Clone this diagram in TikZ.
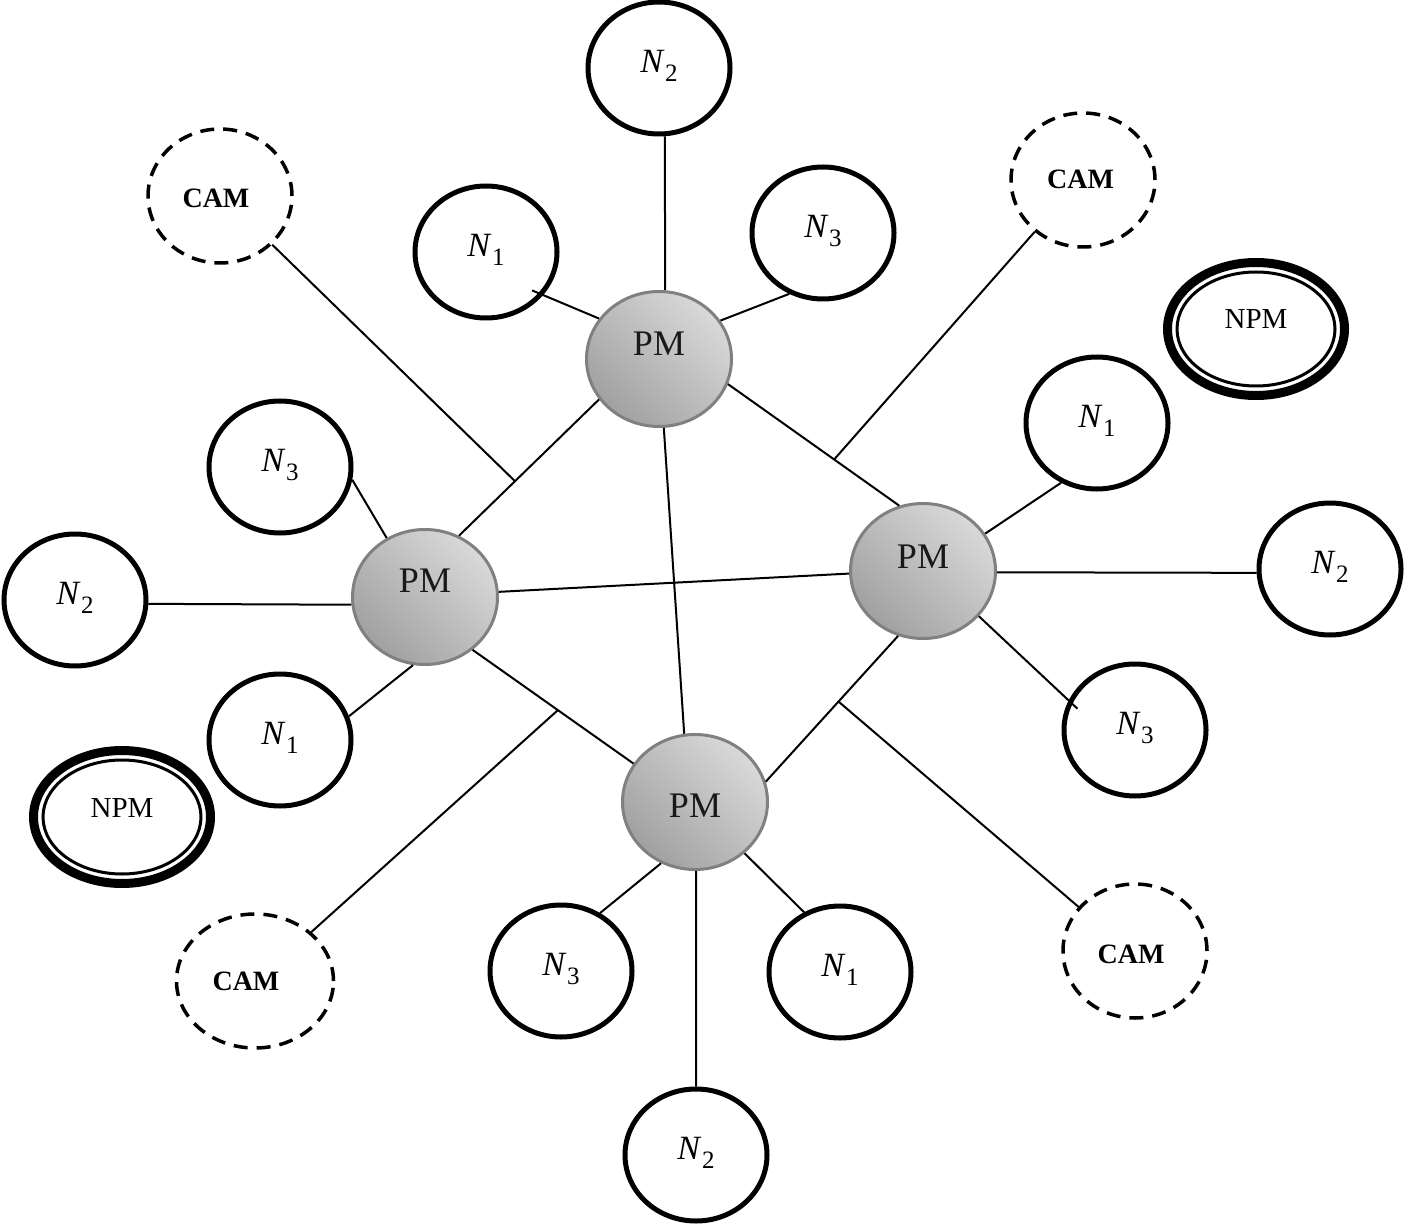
\documentclass[tikz,border=0pt]{standalone}
\usepackage{fontspec}
\setmainfont{Liberation Serif}
\usetikzlibrary{shapes.geometric,calc}
\newcommand\lift[2]{\raisebox{#1}[0pt][0pt]{#2}}
\newcommand\Nlab[1]{\lift{-4.5pt}{\textit{N}\kern0.5pt\raisebox{-0.27em}{\fontsize{25}{26}\selectfont #1}}}
\tikzset{
  nnode/.style={ellipse, draw=black, line width=5pt, minimum width=142pt, minimum height=132pt, inner sep=0pt, font=\fontsize{34}{36}\selectfont},
  pmnode/.style={ellipse, draw=gray, line width=3pt, minimum width=145pt, minimum height=135pt, inner sep=0pt,
    shading=axis, top color=gray!30, bottom color=gray!74, shading angle=-45, text=black!90, font=\fontsize{36}{38}\selectfont},
  camnode/.style={ellipse, draw=black, line width=3.5pt, dash pattern=on 14pt off 9pt, minimum width=144pt, minimum height=134pt, inner sep=0pt, font=\bfseries\fontsize{28}{30}\selectfont},
  npmnode/.style={ellipse, draw=black, line width=9pt, minimum width=177pt, minimum height=133pt, inner sep=0pt, font=\fontsize{29}{31}\selectfont},
  npminner/.style={line width=3pt, draw=black},
  link/.style={line width=2pt, draw=black},
}
\begin{document}
\begin{tikzpicture}[x=1pt,y=-1pt]
\useasboundingbox (0,0) rectangle (1406,1230);
% PM nodes
\node[pmnode] (pmT) at (659,359) {\lift{3pt}{PM}};
\node[pmnode] (pmL) at (425,597) {\lift{4.5pt}{PM}};
\node[pmnode] (pmR) at (923,571) {\lift{3pt}{PM}};
\node[pmnode] (pmB) at (695,802) {\lift{-15pt}{PM}};
% N nodes
\node[nnode] (n2t) at (659,68) {\Nlab{2}};
\node[nnode] (n1t) at (486,252) {\Nlab{1}};
\node[nnode] (n3t) at (823,233) {\Nlab{3}};
\node[nnode] (n1r) at (1097,423) {\Nlab{1}};
\node[nnode] (n2r) at (1330,569) {\Nlab{2}};
\node[nnode] (n3r) at (1135,730) {\Nlab{3}};
\node[nnode] (n1b) at (840,972) {\Nlab{1}};
\node[nnode] (n3b) at (561,971) {\Nlab{3}};
\node[nnode] (n2b) at (696,1155) {\Nlab{2}};
\node[nnode] (n1l) at (280,740) {\Nlab{1}};
\node[nnode] (n2l) at (75,600) {\Nlab{2}};
\node[nnode] (n3l) at (280,467) {\Nlab{3}};
% CAM nodes
\node[camnode] (camTL) at (220,196) {\lift{-12pt}{\kern-8pt CAM}};
\node[camnode] (camTR) at (1083,180) {\lift{-9pt}{\kern-5pt CAM}};
\node[camnode] (camBR) at (1135,951) {\lift{-12pt}{\kern-8pt CAM}};
\node[camnode, minimum width=157pt] (camBL) at (255,981) {\lift{-9pt}{\kern-18pt CAM}};
% NPM nodes
\node[npmnode] (npmR) at (1256,329) {\lift{0pt}{NPM}};
\node[npmnode] (npmL) at (122,817) {\lift{0pt}{NPM}};
\draw[npminner] (npmR.center) ellipse (79 and 57);
\draw[npminner] (npmL.center) ellipse (79 and 57);
% PM to PM links
\draw[link] (pmT.-20) -- (pmR.110);
\draw[link] (pmT.-146) -- (pmL.61);
\draw[link] (pmT.-86) -- (pmB.99);
\draw[link] (pmL.4) -- (pmR.-178.5);
\draw[link] (pmL.-48) -- (pmB.148.5);
\draw[link] (pmR.-111) -- (pmB.16.5);
% junction coordinates for CAM links
\coordinate (jTL) at ($(pmT.-146)!0.6!(pmL.61)$);
\coordinate (jTR) at ($(pmT.-20)!0.62!(pmR.110)$);
\coordinate (jBL) at ($(pmL.-48)!0.53!(pmB.148.5)$);
\coordinate (jBR) at ($(pmR.-111)!0.45!(pmB.16.5)$);
\draw[link] (camTL.-43) -- (jTL);
\draw[link] (camTR.-133) -- (jTR);
\draw[link] (camBL.41) -- (jBL);
\draw[link] (camBR.142) -- (jBR);
% N to PM links
\draw[link] (n2t.-85) -- (pmT.85);
\draw[link, shorten <=-12pt] (n1t.-37) -- (pmT.146.5);
\draw[link] (n3t.-119) -- (pmT.32);
\draw[link] (n3l.-10) -- (pmL.123);
\draw[link] (n2l.-3) -- (pmL.-174.5);
\draw[link] (n1l.19) -- (pmL.-100);
\draw[link] (n1r.-121) -- (pmR.31);
\draw[link] (n2r.-177) -- (pmR.-1.5);
\draw[link, shorten <=-12pt] (n3r.156) -- (pmR.-39);
\draw[link] (n3b.56) -- (pmB.-119);
\draw[link] (n1b.121) -- (pmB.-46);
\draw[link] (n2b.90) -- (pmB.-89);
\end{tikzpicture}
\end{document}
